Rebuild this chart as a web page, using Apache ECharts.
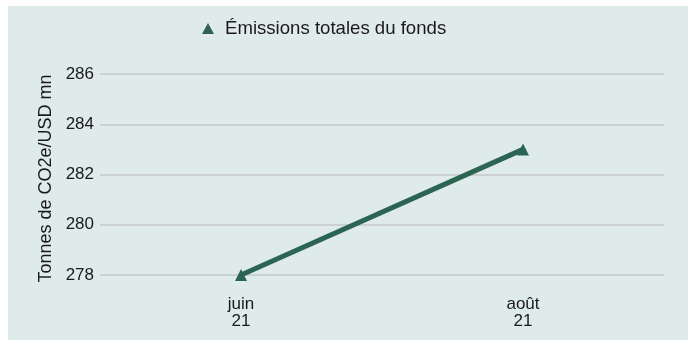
<!DOCTYPE html>
<html>
<head>
<meta charset="utf-8">
<script src="https://cdn.jsdelivr.net/npm/echarts@6/dist/echarts.min.js"></script>
<style>
  html, body { margin: 0; padding: 0; background: #ffffff; }
  #wrap { position: absolute; left: 8px; top: 6px; width: 680px; height: 334px; background: #dfeaea; }
  #chart { width: 688px; height: 340px; position: absolute; left: 0; top: 0; }
</style>
</head>
<body>
<div id="wrap"></div>
<div id="chart"></div>
<script>
// Fund emissions intensity, tonnes CO2e per USD million
const months = ['juin\n21', 'août\n21'];
const totalEmissions = [278, 283];
const seriesName = 'Émissions totales du fonds';
const yMin = 278, yMax = 286, yStep = 2;

const lineColor = '#2b6552';
const textColor = '#1a1a1a';
const font = 'Liberation Sans, Arial, Helvetica, sans-serif';

const chart = echarts.init(document.getElementById('chart'), null, { renderer: 'canvas' });
chart.setOption({
  backgroundColor: 'transparent',
  animation: false,
  legend: {
    data: [{ name: seriesName, icon: 'triangle' }],
    top: 14,
    left: 197,
    itemWidth: 12,
    itemHeight: 11,
    itemGap: 12,
    textStyle: { color: textColor, fontSize: 18.6, fontFamily: font, padding: [0, 0, 0, 6] }
  },
  grid: { left: 100, right: 24, top: 74, bottom: 65 },
  xAxis: {
    type: 'category',
    data: months,
    boundaryGap: true,
    axisLine: { show: false },
    axisTick: { show: false },
    axisLabel: { color: textColor, fontSize: 17, fontFamily: font, margin: 21, lineHeight: 17 }
  },
  yAxis: {
    type: 'value',
    min: yMin,
    max: yMax,
    interval: yStep,
    name: 'Tonnes de CO2e/USD mn',
    nameLocation: 'middle',
    nameGap: 43,
    nameTextStyle: { color: textColor, fontSize: 18, fontFamily: font, padding: [0, 8, 0, 0] },
    axisLine: { show: false },
    axisTick: { show: false },
    axisLabel: { color: textColor, fontSize: 17, fontFamily: font, margin: 6 },
    splitLine: { lineStyle: { color: '#c4c9ca', width: 1.5 } }
  },
  series: [{
    name: seriesName,
    type: 'line',
    data: totalEmissions,
    symbol: 'triangle',
    symbolSize: 12,
    itemStyle: { color: lineColor },
    lineStyle: { color: lineColor, width: 5 }
  }]
});
</script>
</body>
</html>
